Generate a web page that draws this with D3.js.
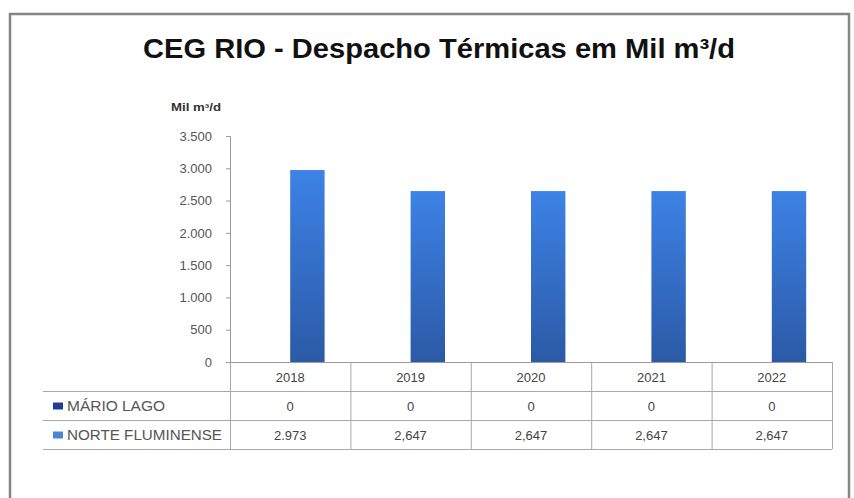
<!DOCTYPE html>
<html><head><meta charset="utf-8">
<script src="https://cdn.jsdelivr.net/npm/d3@7"></script>
<style>body{margin:0;background:#fff}svg{display:block}</style>
</head><body>
<svg id="c" width="854" height="498"></svg>
<script>
const title = "CEG RIO - Despacho Térmicas em Mil m³/d";
const unitLabel = "Mil m³/d";
const years = ["2018", "2019", "2020", "2021", "2022"];
const seriesNames = ["MÁRIO LAGO", "NORTE FLUMINENSE"];
const marioLago = [0, 0, 0, 0, 0];
const norteFluminense = [2973, 2647, 2647, 2647, 2647];
const marioLagoLabels = ["0", "0", "0", "0", "0"];
const norteFluminenseLabels = ["2.973", "2,647", "2,647", "2,647", "2,647"];
const yTicks = [0, 500, 1000, 1500, 2000, 2500, 3000, 3500];

const series = [
  {name: seriesNames[0], values: marioLago, labels: marioLagoLabels, color: "#1f3c96", labelLen: 98},
  {name: seriesNames[1], values: norteFluminense, labels: norteFluminenseLabels, color: "#4a86d8", labelLen: 155}
];

const FONT = "Liberation Sans, Arial, sans-serif";
const svg = d3.select("#c");
const defs = svg.append("defs");
const g1 = defs.append("linearGradient").attr("id", "gNF").attr("x1", 0).attr("y1", 0).attr("x2", 0).attr("y2", 1);
g1.append("stop").attr("offset", "0%").attr("stop-color", "#3d82e6");
g1.append("stop").attr("offset", "100%").attr("stop-color", "#2b5aa6");
const g0 = defs.append("linearGradient").attr("id", "gML").attr("x1", 0).attr("y1", 0).attr("x2", 0).attr("y2", 1);
g0.append("stop").attr("offset", "0%").attr("stop-color", "#2a4fb0");
g0.append("stop").attr("offset", "100%").attr("stop-color", "#1b3580");
const fills = ["url(#gML)", "url(#gNF)"];

// frame
svg.append("rect").attr("x", 10).attr("y", 14).attr("width", 839).attr("height", 500)
  .attr("fill", "#fff").attr("stroke", "#858585").attr("stroke-width", 2.5);

svg.append("text").attr("x", 143).attr("y", 58)
  .attr("font-family", FONT).attr("font-weight", "bold")
  .attr("font-size", 28).attr("fill", "#111")
  .attr("textLength", 592).attr("lengthAdjust", "spacingAndGlyphs").text(title);

const left = 230, right = 832, y0 = 362, yTop = 136;
const x = d3.scaleBand().domain(years).range([left, right]).paddingInner(0).paddingOuter(0);
const y = d3.scaleLinear().domain([0, 3500]).range([y0, yTop]);
const bw = x.bandwidth() / 3.5;
const xs = d3.scaleBand().domain(seriesNames).range([x.bandwidth()/2 - bw, x.bandwidth()/2 + bw]);

const loc = d3.formatLocale({decimal: ",", thousands: ".", grouping: [3], currency: ["", ""]});
const fmt = loc.format(",d");

// y axis
const yAxis = d3.axisLeft(y).tickValues(yTicks).tickFormat(fmt).tickSize(4).tickPadding(14);
const ya = svg.append("g").attr("transform", `translate(${left},0)`).call(yAxis);
ya.select(".domain").attr("stroke", "#9a9a9a");
ya.selectAll(".tick line").attr("stroke", "#9a9a9a");
ya.selectAll(".tick text").attr("font-family", FONT)
  .attr("font-size", 13).attr("fill", "#555");

svg.append("text").attr("x", 171).attr("y", 111)
  .attr("font-family", FONT).attr("font-weight", "bold")
  .attr("font-size", 10).attr("fill", "#333")
  .attr("textLength", 50).attr("lengthAdjust", "spacingAndGlyphs").text(unitLabel);

// bars
series.forEach((s, i) => {
  svg.append("g").selectAll("rect").data(s.values).join("rect")
    .attr("x", (d, j) => x(years[j]) + xs(s.name))
    .attr("width", xs.bandwidth())
    .attr("y", d => y(d))
    .attr("height", d => y(0) - y(d))
    .attr("fill", fills[i]);
});

// table
const rowH = 29;
const tbl = svg.append("g").attr("stroke", "#a8a8a8").attr("stroke-width", 1).attr("fill", "none");
tbl.append("line").attr("x1", left).attr("x2", right).attr("y1", y0 + 0.5).attr("y2", y0 + 0.5).attr("stroke", "#9a9a9a");
[1, 2, 3].forEach(r => {
  tbl.append("line").attr("x1", 43).attr("x2", right).attr("y1", y0 + r*rowH + 0.5).attr("y2", y0 + r*rowH + 0.5);
});
years.forEach(yr => {
  tbl.append("line").attr("x1", x(yr) + 0.5).attr("x2", x(yr) + 0.5).attr("y1", y0).attr("y2", y0 + 3*rowH);
});
tbl.append("line").attr("x1", right + 0.5).attr("x2", right + 0.5).attr("y1", y0).attr("y2", y0 + 3*rowH);

const txt = svg.append("g").attr("font-family", FONT).attr("font-size", 13).attr("fill", "#444");
txt.selectAll("text.yr").data(years).join("text").attr("class", "yr")
  .attr("x", d => x(d) + x.bandwidth()/2).attr("y", y0 + rowH/2 + 5).attr("text-anchor", "middle").text(d => d);
series.forEach((s, i) => {
  const ry = y0 + (i + 1)*rowH;
  txt.append("g").selectAll("text").data(s.labels).join("text")
    .attr("x", (d, j) => x(years[j]) + x.bandwidth()/2).attr("y", ry + rowH/2 + 5)
    .attr("text-anchor", "middle").text(d => d);
  svg.append("rect").attr("x", 53).attr("y", ry + rowH/2 - 3).attr("width", 10).attr("height", 7).attr("fill", s.color);
  svg.append("text").attr("x", 67).attr("y", ry + rowH/2 + 5)
    .attr("font-family", FONT).attr("font-size", 14)
    .attr("fill", "#555").attr("textLength", s.labelLen).attr("lengthAdjust", "spacingAndGlyphs").text(s.name);
});
</script>
</body></html>
